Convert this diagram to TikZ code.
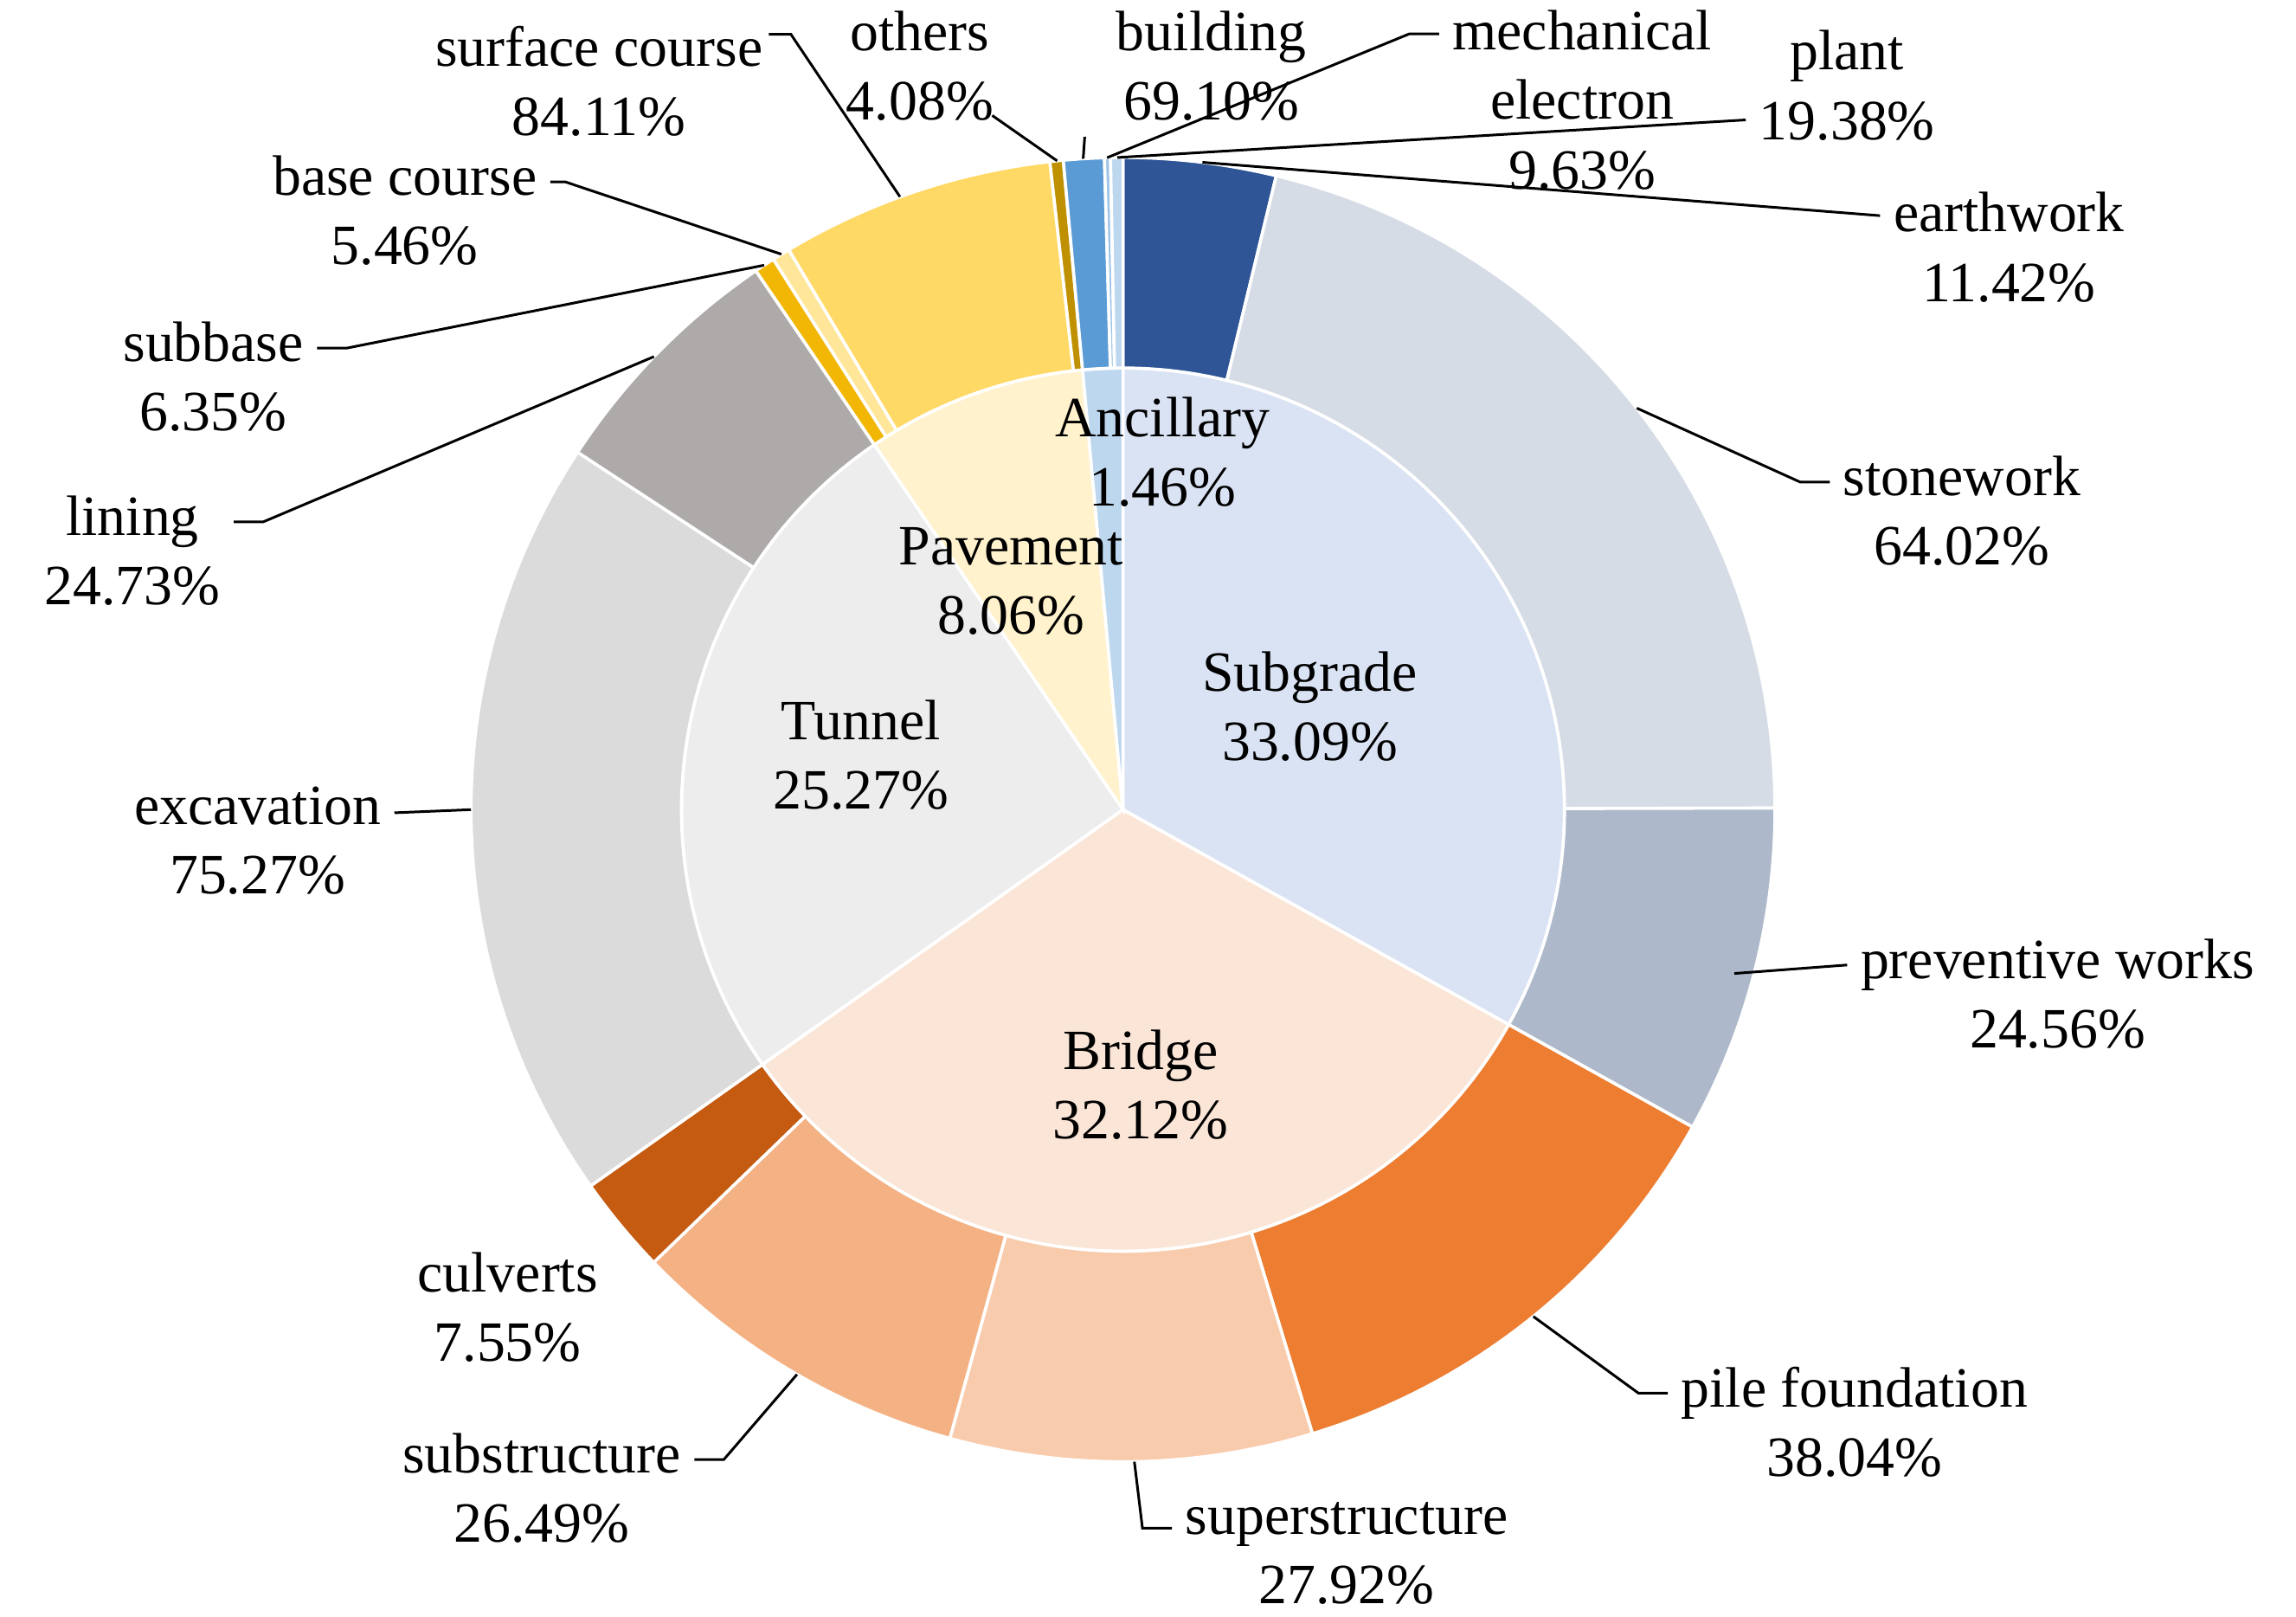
\documentclass[tikz,border=0pt]{standalone}
\usepackage{fontspec}
\setmainfont{Liberation Serif}
\definecolor{cSubI}{HTML}{DAE3F3}\definecolor{cStone}{HTML}{D6DCE5}\definecolor{cPrev}{HTML}{ADB9CA}\definecolor{cEarth}{HTML}{2F5597}
\definecolor{cBriI}{HTML}{FBE5D6}\definecolor{cPile}{HTML}{ED7D31}\definecolor{cSuper}{HTML}{F8CBAD}\definecolor{cSubs}{HTML}{F4B183}\definecolor{cCulv}{HTML}{C55A11}
\definecolor{cTunI}{HTML}{EDEDED}\definecolor{cExc}{HTML}{DBDBDB}\definecolor{cLin}{HTML}{AEAAAA}
\definecolor{cPavI}{HTML}{FFF2CC}\definecolor{cSurf}{HTML}{FFD966}\definecolor{cBase}{HTML}{FFE699}\definecolor{cSubb}{HTML}{F2B705}\definecolor{cOth}{HTML}{BF9000}
\definecolor{cAncI}{HTML}{BDD7EE}\definecolor{cBuild}{HTML}{5B9BD5}\definecolor{cMech}{HTML}{9DC3E6}\definecolor{cPlant}{HTML}{BDD7EE}
\newcommand{\mywedge}[5]{\filldraw[fill=#5,draw=white,line width=0.6pt] (#3:#2) arc[start angle=#3,end angle=#4,radius=#2] -- (#4:#1) arc[start angle=#4,end angle=#3,radius=#1] -- cycle;}
\newcommand{\mypie}[4]{\filldraw[fill=#4,draw=white,line width=0.6pt] (0,0) -- (#2:#1) arc[start angle=#2,end angle=#3,radius=#1] -- cycle;}
\begin{document}
\begin{tikzpicture}[x=0.01cm,y=0.01cm,
  lab/.style={align=center,font=\fontsize{11}{13.4}\selectfont,inner sep=1pt},
  lead/.style={draw=black,line width=0.5pt}]
\useasboundingbox[fill=white] (0,0) rectangle (1560,1098);
\begin{scope}[shift={(763,548)}]
\mypie{300}{90}{-29.124}{cSubI}
\mypie{300}{-29.124}{-144.756}{cBriI}
\mypie{300}{-144.756}{-235.728}{cTunI}
\mypie{300}{-235.728}{-264.744}{cPavI}
\mypie{300}{-264.744}{-270}{cAncI}
\mywedge{300}{443}{90}{76.4}{cEarth}
\mywedge{300}{443}{76.4}{0.14}{cStone}
\mywedge{300}{443}{0.14}{-29.124}{cPrev}
\mywedge{300}{443}{-29.124}{-73.11}{cPile}
\mywedge{300}{443}{-73.11}{-105.40}{cSuper}
\mywedge{300}{443}{-105.40}{-136.03}{cSubs}
\mywedge{300}{443}{-136.03}{-144.756}{cCulv}
\mywedge{300}{443}{-144.756}{-213.23}{cExc}
\mywedge{300}{443}{-213.23}{-235.728}{cLin}
\mywedge{300}{443}{-235.728}{-237.57}{cSubb}
\mywedge{300}{443}{-237.57}{-239.16}{cBase}
\mywedge{300}{443}{-239.16}{-263.56}{cSurf}
\mywedge{300}{443}{-263.56}{-264.744}{cOth}
\mywedge{300}{443}{-264.744}{-268.37}{cBuild}
\mywedge{300}{443}{-268.37}{-268.9}{cMech}
\mywedge{300}{443}{-268.9}{-270}{cPlant}
\coordinate (pEarth) at (83:443);
\coordinate (pStone) at (38:443);
\coordinate (pPrev) at (-15:430);
\coordinate (pPile) at (-51:443);
\coordinate (pSuper) at (-89:443);
\coordinate (pSubs) at (-120:443);
\coordinate (pExc) at (-180:443);
\coordinate (pLin) at (-224:443);
\coordinate (pSubb) at (-236.6:443);
\coordinate (pBase) at (-238.4:443);
\coordinate (pSurf) at (-250:443);
\coordinate (pOth) at (-264.2:443);
\coordinate (pBuild) at (-266.5:443);
\coordinate (pMech) at (-268.6:443);
\coordinate (pPlant) at (-269.5:443);
\end{scope}
% inner labels
\node[lab] (nAnc) at (790,791) {Ancillary\\1.46\%};
\node[lab] (nPav) at (687,703) {Pavement\\8.06\%};
\node[lab] (nTun) at (585,585) {Tunnel\\25.27\%};
\node[lab] (nSub) at (890,618) {Subgrade\\33.09\%};
\node[lab] (nBri) at (775,361) {Bridge\\32.12\%};
% outer labels
\node[lab] (lSurf) at (407,1043) {surface course\\84.11\%};
\node[lab] (lOth) at (625,1053) {others\\4.08\%};
\node[lab] (lBuild) at (823,1053) {building\\69.10\%};
\node[lab] (lMech) at (1075,1030) {mechanical\\electron\\9.63\%};
\node[lab] (lPlant) at (1255,1040) {plant\\19.38\%};
\node[lab] (lEarth) at (1365,930) {earthwork\\11.42\%};
\node[lab] (lBase) at (275,955) {base course\\5.46\%};
\node[lab] (lSubb) at (145,842) {subbase\\6.35\%};
\node[lab] (lLin) at (90,724) {lining\\24.73\%};
\node[lab] (lExc) at (175,527) {excavation\\75.27\%};
\node[lab] (lStone) at (1333,751) {stonework\\64.02\%};
\node[lab] (lPrev) at (1398,423) {preventive works\\24.56\%};
\node[lab] (lPile) at (1260,132) {pile foundation\\38.04\%};
\node[lab] (lSuper) at (915,43) {superstructure\\27.92\%};
\node[lab] (lSubs) at (368,87) {substructure\\26.49\%};
\node[lab] (lCulv) at (345,210) {culverts\\7.55\%};
% leaders
\draw[lead] (lSurf.north east) ++(0,-10) -- ++(15,0) -- (pSurf);
\draw[lead] (lOth.south east) ++(-5,8) -- (pOth);
\draw[lead] (737,1005) -- (pBuild);
\draw[lead] (lMech.north west) ++(-5,-20) -- ++(-20,0) -- (pMech);
\draw[lead] (lPlant.south west) ++(-5,18) -- (pPlant);
\draw[lead] (lEarth.north west) ++(-5,-20) -- (pEarth);
\draw[lead] (lBase.north east) ++(5,-22) -- ++(10,0) -- (pBase);
\draw[lead] (lSubb.north east) ++(5,-22) -- ++(20,0) -- (pSubb);
\draw[lead] (lLin.north east) ++(5,-22) -- ++(20,0) -- (pLin);
\draw[lead] (lExc.north east) ++(5,-22) -- (pExc);
\draw[lead] (lStone.north west) ++(-5,-22) -- ++(-20,0) -- (pStone);
\draw[lead] (lPrev.north west) ++(-5,-22) -- (pPrev);
\draw[lead] (lPile.north west) ++(-5,-22) -- ++(-20,0) -- (pPile);
\draw[lead] (lSuper.north west) ++(-5,-22) -- ++(-20,0) -- (pSuper);
\draw[lead] (lSubs.north east) ++(5,-22) -- ++(20,0) -- (pSubs);
\end{tikzpicture}
\end{document}
